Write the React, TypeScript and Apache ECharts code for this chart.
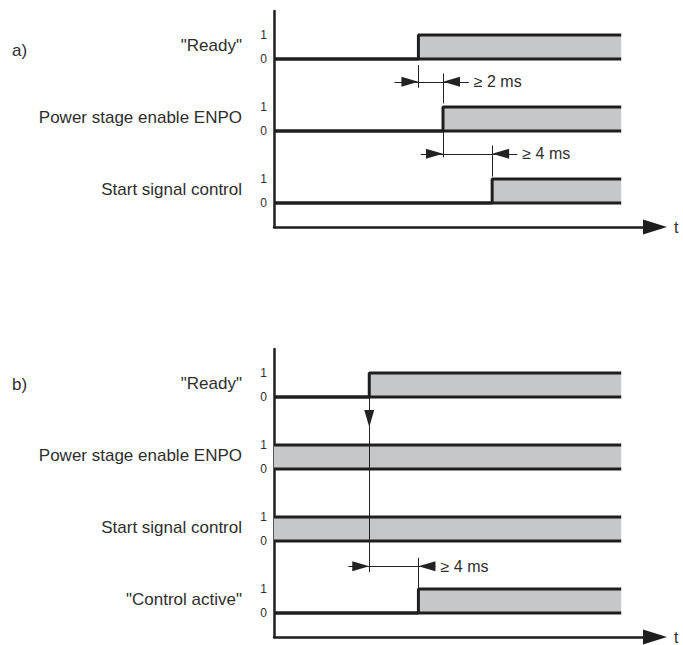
import React, { useEffect, useRef } from "react";
import * as echarts from "echarts";

// ---- data (time in ms, levels 0/1) ----
const T_MAX = 31;
const T_END = 28.25;

// panel a) rows from bottom to top
const rowNamesA = ["Start signal control", "Power stage enable ENPO", '"Ready"'];
const rowBaseA = [1, 4, 7];
const startA = [[0, 0], [17.75, 1], [T_END, 1]];
const enpoA = [[0, 0], [13.75, 1], [T_END, 1]];
const readyA = [[0, 0], [11.75, 1], [T_END, 1]];
const signalsA = [startA, enpoA, readyA];

// panel b) rows from bottom to top
const rowNamesB = ['"Control active"', "Start signal control", "Power stage enable ENPO", '"Ready"'];
const rowBaseB = [1, 4, 7, 10];
const activeB = [[0, 0], [11.75, 1], [T_END, 1]];
const startB = [[0, 1], [T_END, 1]];
const enpoB = [[0, 1], [T_END, 1]];
const readyB = [[0, 0], [7.75, 1], [T_END, 1]];
const signalsB = [activeB, startB, enpoB, readyB];

const levelLabels = ["0", "1"];
const panelLabels = ["a)", "b)"];
const LABEL_POS = 0.56; // row name position within the row (0 = low level, 1 = high level)

// dimension annotations: [fromT, toT, y, leftTail, rightTail, text]
const dimsA = [
  [11.75, 13.75, 6.05, 9.8, 15.85, "≥ 2 ms"],
  [13.75, 17.75, 3.05, 11.95, 19.8, "≥ 4 ms"],
];
const dimsB = [[7.75, 11.75, 2.95, 6.05, 13.15, "≥ 4 ms"]];
// vertical reference lines: [t, y1, y2]
const ticksA = [
  [11.75, 6.75, 5.8],
  [13.75, 6.4, 5.15],
  [13.75, 4.0, 2.9],
  [17.75, 3.4, 2.1],
];
const ticksB = [
  [11.75, 3.3, 2.0],
  [7.75, 8.75, 2.7],
];
// arrow down in b): [t, fromY, toY]
const arrowsDownB = [[7.75, 10, 8.75]];

const FONT = "'Liberation Sans', Arial, sans-serif";
const INK = "#1e1e1e";
const FILL = "#c6c7c9";
const TEXT = "#2e2e2e";
const DIM = "#222222";

function dimLines(dims: any[], ticks: any[], arrows: any[]) {
  const out: any[] = [];
  dims.forEach(([a, b, y, lt, rt, txt]) => {
    out.push([{ coord: [lt, y] }, { coord: [a, y], symbol: "triangle" }]);
    out.push([{ coord: [a, y] }, { coord: [b, y] }]);
    out.push([
      {
        coord: [rt, y],
        label: {
          show: true,
          position: "start",
          formatter: txt,
          distance: 5,
          fontSize: 16,
          color: TEXT,
          fontFamily: FONT,
        },
      },
      { coord: [b, y], symbol: "triangle" },
    ]);
  });
  ticks.forEach(([t, y1, y2]) => {
    out.push([{ coord: [t, y1] }, { coord: [t, y2] }]);
  });
  arrows.forEach(([t, y1, y2]) => {
    out.push([{ coord: [t, y1] }, { coord: [t, y2], symbol: "triangle" }]);
  });
  return out;
}

function buildOption() {
  const panels = [
    { names: rowNamesA, bases: rowBaseA, signals: signalsA, yMax: 9, lines: dimLines(dimsA, ticksA, []) },
    { names: rowNamesB, bases: rowBaseB, signals: signalsB, yMax: 12, lines: dimLines(dimsB, ticksB, arrowsDownB) },
  ];
  const grids = [
    { left: 274, top: 11, width: 381, height: 216 },
    { left: 274, top: 349, width: 381, height: 289 },
  ];
  const xAxis: any[] = [];
  const yAxis: any[] = [];
  const series: any[] = [];
  panels.forEach((p, i) => {
    xAxis.push({
      type: "value",
      gridIndex: i,
      min: 0,
      max: T_MAX,
      axisLine: {
        show: true,
        lineStyle: { color: INK, width: 2.5 },
        symbol: ["none", "triangle"],
        symbolSize: [15, 24],
      },
      axisTick: { show: false },
      axisLabel: { show: false },
      splitLine: { show: false },
      name: "t",
      nameLocation: "end",
      nameGap: 19,
      nameTextStyle: { fontSize: 16, color: TEXT, fontFamily: FONT, verticalAlign: "middle" },
    });
    const levelVals: number[] = [];
    p.bases.forEach((b) => levelVals.push(b, b + 1));
    yAxis.push({
      type: "value",
      gridIndex: i,
      min: 0,
      max: p.yMax,
      position: "left",
      axisLine: { show: true, onZero: false, lineStyle: { color: INK, width: 2.5 } },
      axisTick: { show: false },
      splitLine: { show: false },
      axisLabel: {
        customValues: levelVals,
        formatter: (v: number) => (p.bases.indexOf(v) >= 0 ? levelLabels[0] : levelLabels[1]),
        margin: 7,
        fontSize: 12,
        color: TEXT,
        fontFamily: FONT,
      },
    });
    yAxis.push({
      type: "value",
      gridIndex: i,
      min: 0,
      max: p.yMax,
      position: "left",
      offset: 0,
      axisLine: { show: false },
      axisTick: { show: false },
      splitLine: { show: false },
      axisLabel: {
        customValues: p.bases.map((b) => b + LABEL_POS),
        formatter: (v: number) => {
          const k = p.bases.findIndex((b) => Math.abs(b + LABEL_POS - v) < 1e-6);
          return k >= 0 ? p.names[k] : "";
        },
        margin: 32,
        fontSize: 17,
        color: TEXT,
        fontFamily: FONT,
      },
    });
    p.signals.forEach((sig, r) => {
      const base = p.bases[r];
      series.push({
        type: "line",
        name: p.names[r],
        xAxisIndex: i,
        yAxisIndex: i * 2,
        data: sig.map(([t, l]) => [t, base + l]),
        step: "end",
        symbol: "none",
        silent: true,
        lineStyle: { color: INK, width: 3 },
        areaStyle: { color: FILL, opacity: 1, origin: base },
        z: 2,
      });
      series.push({
        type: "line",
        xAxisIndex: i,
        yAxisIndex: i * 2,
        data: [[0, base], [T_END, base]],
        symbol: "none",
        silent: true,
        lineStyle: { color: INK, width: 3 },
        z: 3,
      });
    });
    series.push({
      type: "line",
      xAxisIndex: i,
      yAxisIndex: i * 2,
      data: [[0, 0]],
      symbol: "none",
      silent: true,
      lineStyle: { opacity: 0 },
      z: 5,
      markLine: {
        silent: true,
        animation: false,
        symbol: ["none", "none"],
        symbolSize: [10, 17],
        symbolOffset: [0, [0, 8.5]],
        lineStyle: { color: DIM, width: 1, type: "solid" },
        label: { show: false },
        emphasis: { disabled: true },
        data: p.lines,
      },
    });
  });
  return {
    animation: false,
    backgroundColor: "#ffffff",
    title: [
      { text: panelLabels[0], left: 7, top: 37, textStyle: { fontSize: 17, fontWeight: "normal", color: TEXT, fontFamily: FONT } },
      { text: panelLabels[1], left: 7, top: 371, textStyle: { fontSize: 17, fontWeight: "normal", color: TEXT, fontFamily: FONT } },
    ],
    grid: grids,
    xAxis,
    yAxis,
    series,
  };
}

export default function App() {
  const ref = useRef<HTMLDivElement>(null);
  useEffect(() => {
    const chart = echarts.init(ref.current!, null, { renderer: "svg" });
    chart.setOption(buildOption() as any);
    return () => chart.dispose();
  }, []);
  return (
    <div
      ref={ref}
      style={{ position: "fixed", left: 0, top: 0, width: 683, height: 645, background: "#fff" }}
    />
  );
}
